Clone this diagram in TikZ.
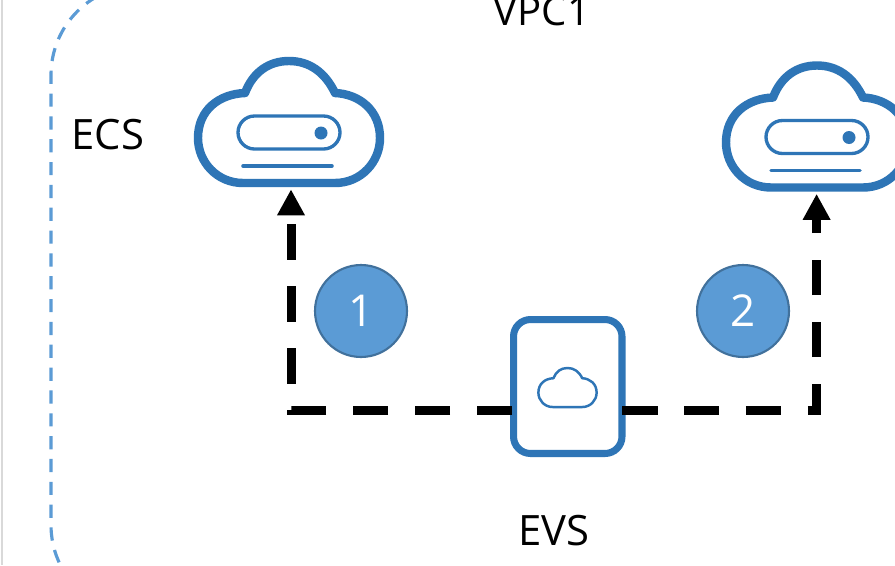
\documentclass[tikz,border=0pt]{standalone}
\usepackage{fontspec}
\setmainfont{Open Sans}
\definecolor{CloudBlue}{HTML}{2E75B6}
\definecolor{BadgeBlue}{HTML}{5B9BD5}
\definecolor{BadgeEdge}{HTML}{41719C}
\definecolor{EdgeGray}{HTML}{D9D9D9}
\usetikzlibrary{
  arrows.meta,
  positioning,
  calc
}

\begin{document}
\begin{tikzpicture}[
  x=0.02cm, y=-0.02cm,
  label/.style={
    font=\fontsize{23.8}{28}\selectfont,
    text=black, inner sep=0pt
  },
  iconbox/.style={
    rectangle, inner sep=0pt,
    minimum width=3.7cm, minimum height=2.68cm
  },
  badge/.style={
    circle, draw=BadgeEdge, fill=BadgeBlue,
    line width=1.2pt, minimum size=1.84cm, inner sep=0pt,
    font=\fontsize{25}{30}\selectfont, text=white
  },
  volume/.style={
    rectangle, rounded corners=0.34cm,
    draw=CloudBlue, fill=white, line width=4pt,
    minimum width=2.17cm, minimum height=2.68cm,
    inner sep=0pt
  },
  link/.style={
    black, line width=0.18cm, dash pattern=on 0.71cm off 0.53cm
  },
  cloudline/.pic={
    \draw[CloudBlue, line join=round, pic actions]
      (-44,-29) .. controls (-36,-50) and (-20,-61) .. (0,-61)
      .. controls (20,-61) and (36,-50) .. (46,-29)
      .. controls (70,-28) and (91,-12) .. (91,16)
      .. controls (91,40) and (72,61) .. (46,61)
      -- (-46,61)
      .. controls (-72,61) and (-91,40) .. (-91,16)
      .. controls (-91,-12) and (-70,-28) .. (-44,-29) -- cycle;
  },
  hostmark/.pic={
    \draw[CloudBlue, line width=1.9pt, rounded corners=0.33cm]
      (-51,-6) rectangle (51,27);
    \fill[CloudBlue] (32,11) circle (6.5);
    \draw[CloudBlue, line width=2pt, line cap=round]
      (-46,44) -- (43,44);
  }
]
  \useasboundingbox (0,0) rectangle (895,565);
  \clip (0,0) rectangle (895,565);
  \fill[white] (0,0) rectangle (895,565);

  % Page edge and dashed container
  \draw[EdgeGray, line width=1.5pt] (2,0) -- (2,565);
  \draw[BadgeBlue, line width=1.8pt, dash pattern=on 7.5pt off 5.5pt,
    rounded corners=1.8cm]
    (141,-15) -- (51,-15) -- (51,615) -- (141,615);

  % Labels
  \node[label, font=\fontsize{22.8}{28}\selectfont] (vpc) at (542,11) {VPC1};
  \node[label] (ecs) at (108,135) {ECS};
  \node[label] (evs) at (554,531) {EVS};

  % Server clouds
  \node[iconbox] (hosta) at (289,122) {};
  \pic[line width=4.8pt] at (hosta) {cloudline};
  \pic at (hosta) {hostmark};
  \node[iconbox] (hostb) at (817,126.5) {};
  \pic[line width=4.8pt] at (hostb) {cloudline};
  \pic at (hostb) {hostmark};

  % Disk in the middle
  \node[volume] (disk) at (567.75,386.5) {};
  \pic[scale=0.32, line width=1.4pt] at (567.5,387.5) {cloudline};

  % Dashed links to the clouds
  \coordinate (turna) at (291,410.5);
  \coordinate (turnb) at (816.6,410.5);
  \draw[link, -{Triangle[length=0.52cm,width=0.52cm]}]
    ($(turna -| disk.west)+(2,0)$) -- (turna) -- (turna |- hosta.south);
  \draw[link, -{Triangle[length=0.52cm,width=0.52cm]}]
    ($(turnb -| disk.east)+(-3.5,0)$) -- (turnb) -- (turnb |- hostb.south);

  % Step badges
  \node[badge] (one) at (361,311) {1};
  \node[badge] (two) at (743,311) {2};
\end{tikzpicture}
\end{document}
